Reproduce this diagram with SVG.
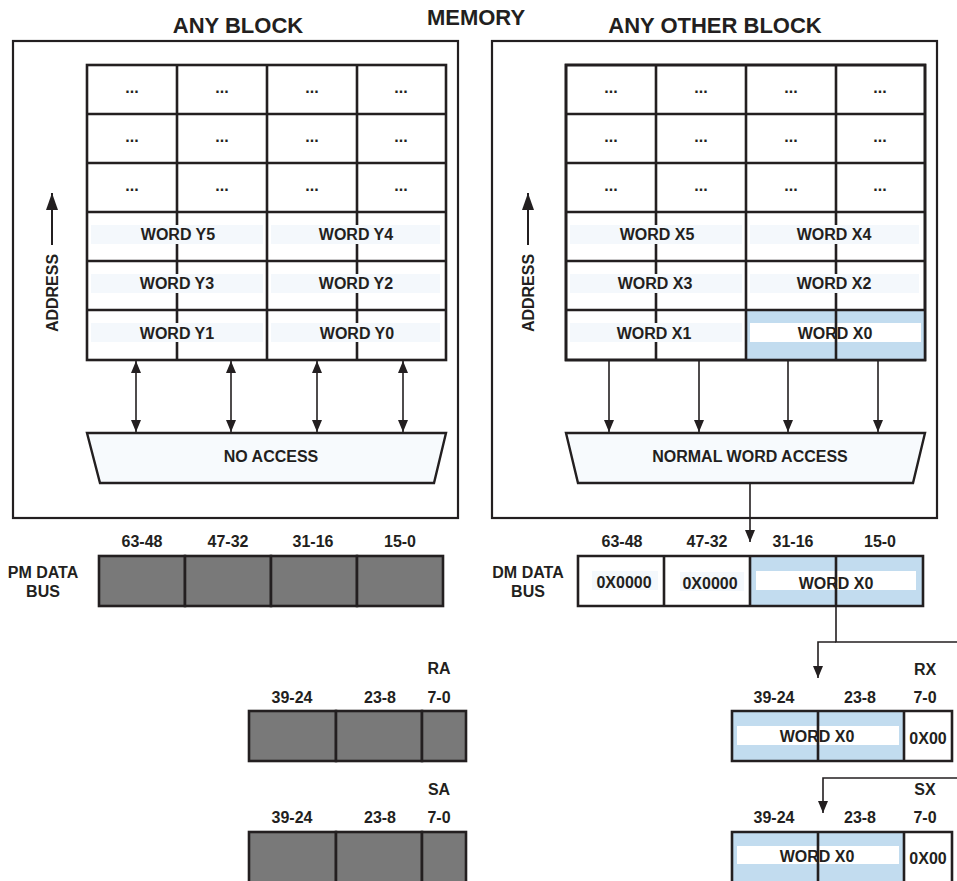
<svg xmlns="http://www.w3.org/2000/svg" width="957" height="881" viewBox="0 0 957 881">
<defs>
<style>
text{font-family:"Liberation Sans",Arial,sans-serif;font-weight:bold;fill:#231f20;text-anchor:middle}
.t20{font-size:22px}
.t16{font-size:16px}
.box{fill:#fff;stroke:#231f20;stroke-width:2.2}
.grid{fill:none;stroke:#231f20;stroke-width:2.6}
.cell{fill:#fff;stroke:#231f20;stroke-width:2.6}
.gray{fill:#797979;stroke:#231f20;stroke-width:2.6}
.blue{fill:#c2dcef}
.band{fill:#f4f8fc}
.wband{fill:#fff}
.trap{fill:#f7fafd;stroke:#231f20;stroke-width:2.4}
.wire{fill:none;stroke:#231f20;stroke-width:1.6}
</style>
<marker id="ah" markerUnits="userSpaceOnUse" markerWidth="12" markerHeight="16" viewBox="0 0 12 16" refX="12" refY="6" orient="auto-start-reverse">
<path d="M0,1 L12,6 L0,11 Z" fill="#231f20"/>
</marker>
<marker id="ah2" markerUnits="userSpaceOnUse" markerWidth="18" markerHeight="14" viewBox="0 0 18 14" refX="17" refY="7" orient="auto-start-reverse">
<path d="M0,1 L17,7 L0,13 Z" fill="#231f20"/>
</marker>
</defs>

<rect width="957" height="881" fill="#fff"/>

<text class="t20" x="476" y="25">MEMORY</text>

<!-- LEFT BLOCK -->
<g id="anyBlock">
<text class="t20" x="238" y="33">ANY BLOCK</text>
<rect class="box" x="13" y="41" width="445" height="477"/>
<rect class="cell" x="87" y="65" width="359" height="295"/>
<path class="grid" d="M87,114H446M87,163H446M87,212H446M87,261H446M87,310H446M177,65V360M267,65V360M357,65V360"/>
<text class="t16" x="132" y="93">...</text><text class="t16" x="222" y="93">...</text><text class="t16" x="312" y="93">...</text><text class="t16" x="401" y="93">...</text>
<text class="t16" x="132" y="142">...</text><text class="t16" x="222" y="142">...</text><text class="t16" x="312" y="142">...</text><text class="t16" x="401" y="142">...</text>
<text class="t16" x="132" y="191">...</text><text class="t16" x="222" y="191">...</text><text class="t16" x="312" y="191">...</text><text class="t16" x="401" y="191">...</text>
<rect class="band" x="91" y="225" width="172" height="19"/><rect class="band" x="271" y="225" width="169" height="19"/>
<rect class="band" x="91" y="274" width="172" height="19"/><rect class="band" x="271" y="274" width="169" height="19"/>
<rect class="band" x="91" y="323" width="172" height="19"/><rect class="band" x="271" y="323" width="169" height="19"/>
<text class="t16" x="178" y="240">WORD Y5</text><text class="t16" x="356" y="240">WORD Y4</text>
<text class="t16" x="177" y="289">WORD Y3</text><text class="t16" x="356" y="289">WORD Y2</text>
<text class="t16" x="177" y="339">WORD Y1</text><text class="t16" x="357" y="339">WORD Y0</text>
<text class="t16" transform="translate(58,293) rotate(-90)">ADDRESS</text>
<line class="wire" x1="52" y1="245" x2="52" y2="193" marker-end="url(#ah2)" style="stroke-width:2"/>
<path class="trap" d="M87,433H446L434,483H100Z"/>
<text class="t16" x="271" y="462">NO ACCESS</text>
</g>

<!-- RIGHT BLOCK -->
<g id="anyOtherBlock">
<text class="t20" x="715" y="33">ANY OTHER BLOCK</text>
<rect class="box" x="492" y="41" width="445" height="477"/>
<rect class="cell" x="566" y="65" width="359" height="295"/>
<rect class="blue" x="746" y="310" width="179" height="50"/>
<rect class="wband" x="750" y="323" width="171" height="19"/>
<path class="grid" d="M566,114H925M566,163H925M566,212H925M566,261H925M566,310H925M656,65V360M746,65V360M836,65V360"/>
<rect class="grid" x="566" y="65" width="359" height="295"/>
<text class="t16" x="611" y="93">...</text><text class="t16" x="701" y="93">...</text><text class="t16" x="791" y="93">...</text><text class="t16" x="880" y="93">...</text>
<text class="t16" x="611" y="142">...</text><text class="t16" x="701" y="142">...</text><text class="t16" x="791" y="142">...</text><text class="t16" x="880" y="142">...</text>
<text class="t16" x="611" y="191">...</text><text class="t16" x="701" y="191">...</text><text class="t16" x="791" y="191">...</text><text class="t16" x="880" y="191">...</text>
<rect class="band" x="570" y="225" width="172" height="19"/><rect class="band" x="750" y="225" width="169" height="19"/>
<rect class="band" x="570" y="274" width="172" height="19"/><rect class="band" x="750" y="274" width="169" height="19"/>
<rect class="band" x="570" y="323" width="172" height="19"/>
<text class="t16" x="657" y="240">WORD X5</text><text class="t16" x="834" y="240">WORD X4</text>
<text class="t16" x="655" y="289">WORD X3</text><text class="t16" x="834" y="289">WORD X2</text>
<text class="t16" x="654" y="339">WORD X1</text><text class="t16" x="835" y="339">WORD X0</text>
<text class="t16" transform="translate(534,293) rotate(-90)">ADDRESS</text>
<line class="wire" x1="528" y1="245" x2="528" y2="193" marker-end="url(#ah2)" style="stroke-width:2"/>
<path class="trap" d="M566,433H925L913,483H578Z"/>
<text class="t16" x="750" y="462">NORMAL WORD ACCESS</text>
</g>

<!-- PM DATA BUS -->
<g id="pmDataBus">
<text class="t16" x="43" y="578">PM DATA</text>
<text class="t16" x="43" y="597">BUS</text>
<text class="t16" x="142" y="547">63-48</text><text class="t16" x="228" y="547">47-32</text><text class="t16" x="313" y="547">31-16</text><text class="t16" x="400" y="547">15-0</text>
<rect class="gray" x="99" y="556" width="86" height="50"/><rect class="gray" x="185" y="556" width="86" height="50"/><rect class="gray" x="271" y="556" width="86" height="50"/><rect class="gray" x="357" y="556" width="86" height="50"/>
</g>

<!-- DM DATA BUS -->
<g id="dmDataBus">
<text class="t16" x="528" y="578">DM DATA</text>
<text class="t16" x="528" y="597">BUS</text>
<text class="t16" x="622" y="547">63-48</text><text class="t16" x="707" y="547">47-32</text><text class="t16" x="793" y="547">31-16</text><text class="t16" x="880" y="547">15-0</text>
<rect class="blue" x="750" y="556" width="173" height="50"/>
<rect class="wband" x="756" y="571" width="160" height="19"/>
<rect class="band" x="592" y="571" width="66" height="19"/>
<rect class="band" x="680" y="572" width="64" height="19"/>
<path class="grid" d="M578,556H923V606H578ZM664,556V606M750,556V606M836,556V606"/>
<text class="t16" x="624" y="588">0X0000</text>
<text class="t16" x="710" y="589">0X0000</text>
<text class="t16" x="836" y="589">WORD X0</text>
</g>

<!-- RA -->
<g id="ra">
<text class="t16" x="439" y="674">RA</text>
<text class="t16" x="292" y="703">39-24</text><text class="t16" x="380" y="703">23-8</text><text class="t16" x="439" y="703">7-0</text>
<rect class="gray" x="249" y="711" width="87" height="50"/><rect class="gray" x="336" y="711" width="86" height="50"/><rect class="gray" x="422" y="711" width="44" height="50"/>
</g>

<!-- SA -->
<g id="sa">
<text class="t16" x="439" y="795">SA</text>
<text class="t16" x="292" y="823">39-24</text><text class="t16" x="380" y="823">23-8</text><text class="t16" x="439" y="823">7-0</text>
<rect class="gray" x="249" y="832" width="87" height="52"/><rect class="gray" x="336" y="832" width="86" height="52"/><rect class="gray" x="422" y="832" width="44" height="52"/>
</g>

<!-- RX -->
<g id="rx">
<text class="t16" x="925" y="675">RX</text>
<text class="t16" x="774" y="703">39-24</text><text class="t16" x="860" y="703">23-8</text><text class="t16" x="925" y="703">7-0</text>
<rect class="blue" x="732" y="711" width="172" height="50"/>
<rect class="wband" x="737" y="726" width="162" height="19"/>
<path class="grid" d="M732,711H952V761H732ZM818,711V761M904,711V761"/>
<text class="t16" x="817" y="742">WORD X0</text>
<text class="t16" x="928" y="744">0X00</text>
</g>

<!-- SX -->
<g id="sx">
<text class="t16" x="925" y="795">SX</text>
<text class="t16" x="774" y="823">39-24</text><text class="t16" x="860" y="823">23-8</text><text class="t16" x="925" y="823">7-0</text>
<rect class="blue" x="732" y="832" width="172" height="52"/>
<rect class="wband" x="737" y="846" width="162" height="18"/>
<path class="grid" d="M732,884V832H952V884M818,832V884M904,832V884"/>
<text class="t16" x="817" y="862">WORD X0</text>
<text class="t16" x="928" y="864">0X00</text>
</g>

<!-- CONNECTORS -->
<g id="connectors">
<line class="wire" x1="136" y1="361" x2="136" y2="432" marker-start="url(#ah)" marker-end="url(#ah)"/>
<line class="wire" x1="231" y1="361" x2="231" y2="432" marker-start="url(#ah)" marker-end="url(#ah)"/>
<line class="wire" x1="317" y1="361" x2="317" y2="432" marker-start="url(#ah)" marker-end="url(#ah)"/>
<line class="wire" x1="403" y1="361" x2="403" y2="432" marker-start="url(#ah)" marker-end="url(#ah)"/>
<line class="wire" x1="609" y1="361" x2="609" y2="432" marker-end="url(#ah)"/>
<line class="wire" x1="699" y1="361" x2="699" y2="432" marker-end="url(#ah)"/>
<line class="wire" x1="788" y1="361" x2="788" y2="432" marker-end="url(#ah)"/>
<line class="wire" x1="878" y1="361" x2="878" y2="432" marker-end="url(#ah)"/>
<line class="wire" x1="750" y1="484" x2="750" y2="542" marker-end="url(#ah)"/>
<path class="wire" d="M836,607V642H957"/>
<path class="wire" d="M836,642H818V678" marker-end="url(#ah)"/>
<path class="wire" d="M957,778H823V813" marker-end="url(#ah)"/>
</g>
</svg>
